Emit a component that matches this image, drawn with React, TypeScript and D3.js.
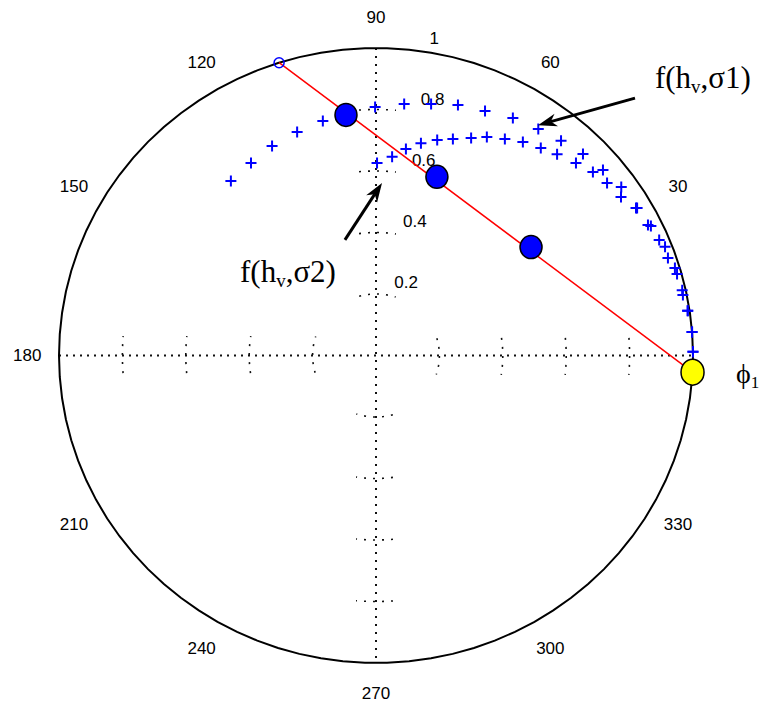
import { useEffect, useRef } from "react"
import * as d3 from "d3"

const W = 759
const H = 707

// f(hv, sigma1): angle (deg) and radius
const sigma1Theta = [128.9, 122.2, 115.7, 108.9, 102.4, 96.2, 90.2, 83.8, 78.0, 72.4, 66.6, 60.8, 55.2, 50.1, 45.1, 40.1, 35.3, 30.2, 25.9, 21.2, 16.8, 12.4, 8.4, 4.4, 0.7]
const sigma1Rho = [0.729, 0.74, 0.756, 0.768, 0.781, 0.793, 0.808, 0.823, 0.836, 0.855, 0.866, 0.885, 0.897, 0.91, 0.925, 0.936, 0.948, 0.953, 0.964, 0.978, 0.985, 0.989, 0.994, 1.0, 1.0]

// f(hv, sigma2)
const sigma2Theta = [89.7, 85.5, 82.0, 78.4, 74.6, 71.0, 67.0, 63.8, 60.0, 56.3, 52.4, 48.9, 44.8, 41.1, 37.6, 33.7, 30.3, 26.3, 22.8, 19.0, 15.6, 11.5, 8.4, 4.4, 0.7]
const sigma2Rho = [0.626, 0.648, 0.678, 0.705, 0.727, 0.745, 0.768, 0.792, 0.813, 0.835, 0.852, 0.869, 0.889, 0.908, 0.92, 0.929, 0.95, 0.957, 0.969, 0.974, 0.986, 0.988, 0.994, 1.0, 1.0]

// red chord and the points on it
const chordTheta = [107.8, -3.1]
const chordRho = [1.0, 1.0]
const dotTheta = [96.9, 71.7, 35.8]
const dotRho = [0.788, 0.612, 0.603]

// grid
const angleLabels = [30, 60, 90, 120, 150, 180, 210, 240, 270, 300, 330]
const radialTicks = [0.2, 0.4, 0.6, 0.8, 1]
const axisAngles = [0, 90, 180, 270]

// annotations, in plot units (x, y)
const sigma1Arrow = { tail: [0.817, 0.837], tip: [0.511, 0.749] }
const sigma2Arrow = { tail: [-0.098, 0.376], tip: [0.019, 0.561] }
const sigma1Label = { pos: [0.88, 0.87], sub: "v", rest: ",σ1)" }
const sigma2Label = { pos: [-0.429, 0.239], sub: "v", rest: ",σ2)" }
const phiLabel = [1.136, -0.09]

export default function App() {
  const svgRef = useRef<SVGSVGElement>(null)

  useEffect(() => {
    if (!svgRef.current) return
    const svg = d3.select(svgRef.current)
    svg.selectAll("*").remove()

    const cx = 376, cy = 355.5, rx = 317, ry = 307.5
    const x = d3.scaleLinear().domain([-1, 1]).range([cx - rx, cx + rx])
    const y = d3.scaleLinear().domain([-1, 1]).range([cy + ry, cy - ry])
    const rad = (d: number) => (d * Math.PI) / 180
    const px = (t: number, r: number) => x(r * Math.cos(rad(t)))
    const py = (t: number, r: number) => y(r * Math.sin(rad(t)))
    const line = d3.line<number[]>().x(d => px(d[0], d[1])).y(d => py(d[0], d[1]))

    svg.append("rect").attr("width", W).attr("height", H).attr("fill", "#fff")

    // dotted axes
    const grid = svg.append("g").attr("fill", "none").attr("stroke", "#111")
    grid.append("path").attr("d", line([[180, 1], [0, 1]])).attr("stroke-width", 2).attr("stroke-dasharray", "2,5")
    grid.append("path").attr("d", line([[90, 1], [270, 1]])).attr("stroke-width", 2).attr("stroke-dasharray", "2,6")

    // what's left of the dotted range circles near the axes
    radialTicks.slice(0, -1).forEach(r => {
      axisAngles.forEach(a => {
        const half = (20 / (r * rx)) * (180 / Math.PI)
        const pts = d3.range(-8, 9).map(k => [a + (k * half) / 8, r])
        grid.append("path")
          .attr("d", line(pts))
          .attr("stroke-width", 1.6)
          .attr("stroke-dasharray", "2,7")
          .attr("stroke-dashoffset", 1)
      })
    })

    // outer circle
    svg.append("path")
      .attr("d", line(d3.range(0, 361, 4).map(t => [t, 1])))
      .attr("fill", "none")
      .attr("stroke", "#000")
      .attr("stroke-width", 2)

    // angle labels
    const labels = svg.append("g")
      .attr("font-family", "'Liberation Sans', Arial, sans-serif")
      .attr("font-size", 17)
      .attr("fill", "#000")
    labels.selectAll("text.ang")
      .data(angleLabels)
      .join("text")
      .attr("class", "ang")
      .attr("x", d => px(d, 1.1))
      .attr("y", d => py(d, 1.1))
      .attr("text-anchor", "middle")
      .attr("dominant-baseline", "central")
      .text(d => d)

    labels.selectAll("text.rad")
      .data(radialTicks)
      .join("text")
      .attr("class", "rad")
      .attr("x", d => px(82, d + 0.01) + 9)
      .attr("y", d => py(82, d + 0.01) - 4)
      .text(d => String(d))

    // crosses
    const plus = "M-5.5,0H5.5M0,-5.5V5.5"
    const drawCrosses = (th: number[], rh: number[]) => {
      svg.append("g")
        .selectAll("path")
        .data(th.map((t, i) => [t, rh[i]]))
        .join("path")
        .attr("d", plus)
        .attr("transform", d => `translate(${px(d[0], d[1])},${py(d[0], d[1])})`)
        .attr("fill", "none")
        .attr("stroke", "#0000ff")
        .attr("stroke-width", 2)
    }
    drawCrosses(sigma1Theta, sigma1Rho)
    drawCrosses(sigma2Theta, sigma2Rho)

    // red chord
    const chord = chordTheta.map((t, i) => [t, chordRho[i]])
    svg.append("path")
      .attr("d", line(chord))
      .attr("fill", "none")
      .attr("stroke", "#ff0000")
      .attr("stroke-width", 1.5)

    svg.append("g")
      .selectAll("ellipse")
      .data(dotTheta.map((t, i) => [t, dotRho[i]]))
      .join("ellipse")
      .attr("cx", d => px(d[0], d[1]))
      .attr("cy", d => py(d[0], d[1]))
      .attr("rx", 11)
      .attr("ry", 11.5)
      .attr("fill", "#0000ff")
      .attr("stroke", "#000")
      .attr("stroke-width", 1.5)

    svg.append("circle")
      .attr("cx", px(chord[0][0], chord[0][1]))
      .attr("cy", py(chord[0][0], chord[0][1]))
      .attr("r", 5)
      .attr("fill", "none")
      .attr("stroke", "#0000ff")
      .attr("stroke-width", 1.5)

    svg.append("ellipse")
      .attr("cx", px(chord[1][0], chord[1][1]))
      .attr("cy", py(chord[1][0], chord[1][1]))
      .attr("rx", 11.5)
      .attr("ry", 13)
      .attr("fill", "#ffff00")
      .attr("stroke", "#000")
      .attr("stroke-width", 1.5)

    // annotations
    const serif = "'Liberation Serif', 'DejaVu Serif', 'Times New Roman', serif"
    const drawLabel = (lab: { pos: number[]; sub: string; rest: string }) => {
      const t = svg.append("text")
        .attr("x", x(lab.pos[0]))
        .attr("y", y(lab.pos[1]))
        .attr("font-family", serif)
        .attr("font-size", 31)
        .attr("fill", "#000")
      t.append("tspan").text("f(h")
      t.append("tspan").attr("dy", 5).attr("font-size", 19).text(lab.sub)
      t.append("tspan").attr("dy", -5).text(lab.rest)
    }
    drawLabel(sigma1Label)
    drawLabel(sigma2Label)

    const phi = svg.append("text")
      .attr("x", x(phiLabel[0]))
      .attr("y", y(phiLabel[1]))
      .attr("font-family", serif)
      .attr("font-size", 28)
      .attr("fill", "#000")
    phi.append("tspan").text("ϕ")
    phi.append("tspan").attr("dy", 5).attr("font-size", 17).text("1")

    const drawArrow = (a: { tail: number[]; tip: number[] }) => {
      const x0 = x(a.tail[0]), y0 = y(a.tail[1])
      const x1 = x(a.tip[0]), y1 = y(a.tip[1])
      const len = Math.hypot(x1 - x0, y1 - y0)
      const ux = (x1 - x0) / len, uy = (y1 - y0) / len
      const L = 19, hw = 6.5
      const bx = x1 - ux * L, by = y1 - uy * L
      svg.append("line")
        .attr("x1", x0).attr("y1", y0)
        .attr("x2", x1 - ux * L * 0.7).attr("y2", y1 - uy * L * 0.7)
        .attr("stroke", "#000")
        .attr("stroke-width", 3)
      svg.append("path")
        .attr("d", `M${x1},${y1}L${bx - uy * hw},${by + ux * hw}L${x1 - ux * L * 0.7},${y1 - uy * L * 0.7}L${bx + uy * hw},${by - ux * hw}Z`)
        .attr("fill", "#000")
    }
    drawArrow(sigma1Arrow)
    drawArrow(sigma2Arrow)
  }, [])

  return (
    <svg
      ref={svgRef}
      width={W}
      height={H}
      style={{ position: "absolute", left: 0, top: 0, display: "block" }}
    />
  )
}
